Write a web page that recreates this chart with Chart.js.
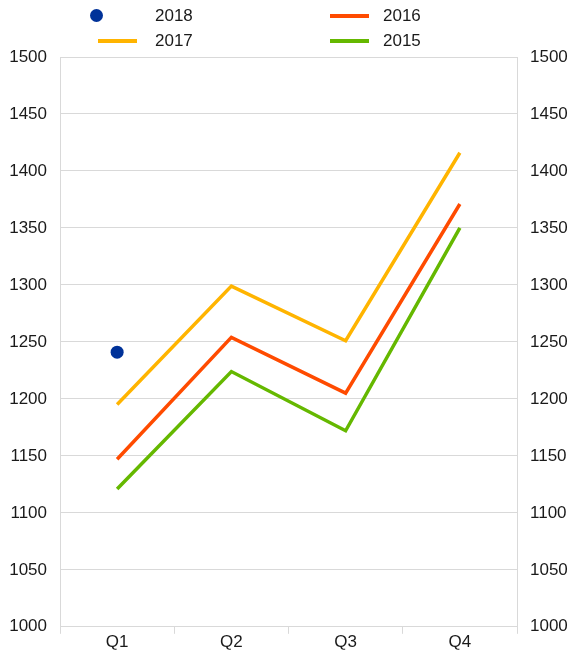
<!DOCTYPE html>
<html>
<head>
<meta charset="utf-8">
<script src="https://cdn.jsdelivr.net/npm/chart.js@4/dist/chart.umd.min.js"></script>
<style>
  html, body { margin: 0; padding: 0; background: #fff; }
  #wrap { position: relative; width: 573px; height: 650px; }
  #legende { position: absolute; left: 0; top: 0; width: 573px; height: 56px;
             font-family: "Liberation Sans", Arial, sans-serif; font-size: 17px; color: #1a1a1a; }
  .item { position: absolute; height: 20px; line-height: 20px; }
  .item span { position: absolute; white-space: nowrap; }
  .trait { position: absolute; height: 4px; top: 8px; width: 39px; }
  .point { position: absolute; width: 13px; height: 13px; border-radius: 50%; top: 3px; }
</style>
</head>
<body>
<div id="wrap">
  <canvas id="graphique" width="573" height="650"></canvas>
  <div id="legende"></div>
</div>
<script>
// Données par trimestre
const trimestres = ["Q1", "Q2", "Q3", "Q4"];
const annees = ["2018", "2017", "2016", "2015"];
const valeurs2018 = [1241, null, null, null];
const valeurs2017 = [1195, 1299, 1251, 1416];
const valeurs2016 = [1147, 1254, 1205, 1371];
const valeurs2015 = [1121, 1224, 1172, 1350];
const couleurs = ["#003299", "#FFB400", "#FF4B00", "#65B800"];

const police = { family: "'Liberation Sans', Arial, sans-serif", size: 17 };

// Légende faite a la main (deux colonnes)
const legende = document.querySelector("#legende");
const positions = [
    { x: 90, y: 6, texte: 155, type: "point" },
    { x: 98, y: 31, texte: 155, type: "trait" },
    { x: 330, y: 6, texte: 383, type: "trait" },
    { x: 330, y: 31, texte: 383, type: "trait" }
];
for (let i = 0; i < annees.length; i++) {
    const p = positions[i];
    const item = document.createElement("div");
    item.className = "item";
    item.style.left = "0px";
    item.style.top = p.y + "px";
    const marque = document.createElement("div");
    marque.className = p.type;
    marque.style.left = p.x + "px";
    marque.style.background = couleurs[i];
    const txt = document.createElement("span");
    txt.style.left = p.texte + "px";
    txt.textContent = annees[i];
    item.appendChild(marque);
    item.appendChild(txt);
    legende.appendChild(item);
}

function serieLigne(label, data, couleur) {
    return {
        label: label,
        data: data,
        borderColor: couleur,
        backgroundColor: couleur,
        borderWidth: 3.5,
        pointRadius: 0,
        tension: 0,
        yAxisID: "y"
    };
}

const data = {
    labels: trimestres,
    datasets: [
        {
            label: "2018",
            data: valeurs2018,
            showLine: false,
            pointRadius: 6.5,
            pointBackgroundColor: couleurs[0],
            pointBorderWidth: 0,
            borderColor: couleurs[0],
            yAxisID: "y"
        },
        serieLigne("2017", valeurs2017, couleurs[1]),
        serieLigne("2016", valeurs2016, couleurs[2]),
        serieLigne("2015", valeurs2015, couleurs[3])
    ]
};

const grisGrille = "#d9d9d9";
const sansSeparateur = (v) => String(v);

const config = {
    type: "line",
    data: data,
    options: {
        responsive: false,
        animation: false,
        layout: { padding: { top: 57, bottom: 0, left: 0, right: 0 } },
        plugins: { legend: { display: false }, tooltip: { enabled: false } },
        scales: {
            x: {
                offset: true,
                grid: { offset: true, drawOnChartArea: false, drawTicks: true, tickLength: 7, color: grisGrille },
                border: { color: grisGrille },
                ticks: { font: police, color: "#1a1a1a", padding: -2 },
                afterFit: (axe) => { axe.height = 23; }
            },
            y: {
                position: "left",
                min: 1000, max: 1500,
                grid: { color: grisGrille, drawTicks: false },
                border: { color: grisGrille },
                ticks: { stepSize: 50, font: police, color: "#1a1a1a", padding: 13, callback: sansSeparateur },
                afterFit: (axe) => { axe.width = 60; }
            },
            y1: {
                position: "right",
                min: 1000, max: 1500,
                grid: { drawOnChartArea: false, drawTicks: false },
                border: { color: grisGrille },
                ticks: { stepSize: 50, font: police, color: "#1a1a1a", padding: 13, callback: sansSeparateur },
                afterFit: (axe) => { axe.width = 56; }
            }
        }
    }
};

const graphique = new Chart(document.querySelector("#graphique"), config);
</script>
</body>
</html>
